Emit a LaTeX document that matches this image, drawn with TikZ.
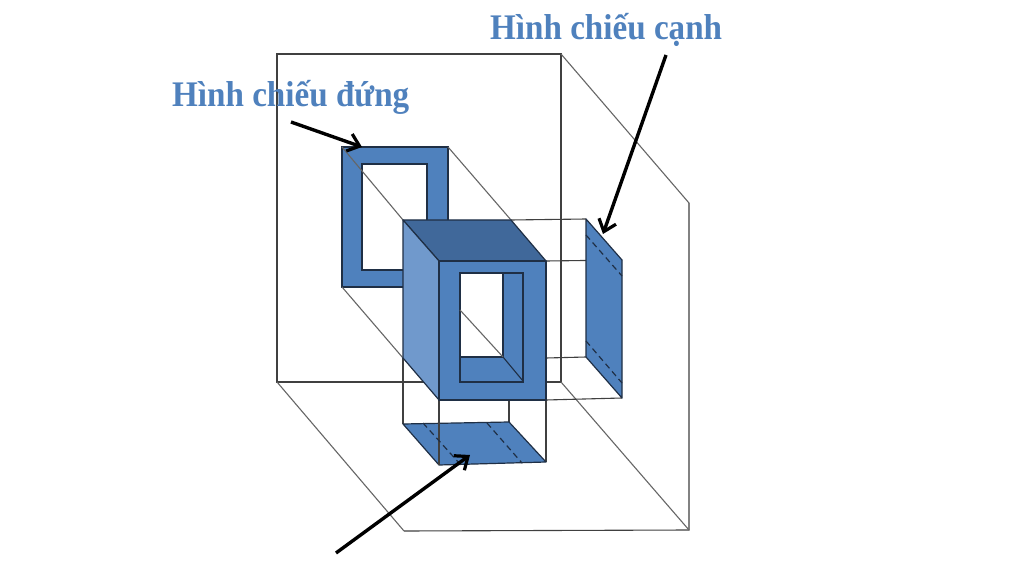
\documentclass[tikz,border=0pt]{standalone}
\usepackage{fontspec}
\setmainfont{Liberation Serif}
\newfontfamily\titlefont[FakeStretch=0.92]{Liberation Serif Bold}
\definecolor{pblue}{HTML}{4F81BD}
\definecolor{ptop}{HTML}{40689A}
\definecolor{pleft}{HTML}{7099CC}
\definecolor{pedge}{HTML}{1F2F45}
\usetikzlibrary{arrows.meta}
\tikzset{
  boxline/.style={draw=black!60,line width=1.1pt},
  guide/.style={draw=black!75,line width=1.1pt},
  face/.style={fill=pblue,draw=pedge,line width=1.2pt,line join=round},
  hidden/.style={draw=pedge,line width=1.2pt,dash pattern=on 6pt off 4pt},
  pointer/.style={draw=black,line width=3.4pt,-{Straight Barb[length=11pt,width=18pt,line width=3.2pt]}},
  title/.style={text=pblue,font=\fontsize{36}{38}\titlefont,inner sep=0pt,anchor=base west}
}
\begin{document}
\begin{tikzpicture}[x=1pt,y=-1pt]
\useasboundingbox (0,0) rectangle (1030,577);
\fill[white] (0,0) rectangle (1030,577);
% big box corners
\coordinate (A) at (277,54); \coordinate (B) at (561,54);
\coordinate (C) at (561,382); \coordinate (D) at (277,382);
\coordinate (E) at (689,203); \coordinate (F) at (689,530); \coordinate (G) at (404,531);
\draw[guide] (A) rectangle (C);
\draw[boxline] (B) -- (E);
\draw[guide] (E) -- (F) -- (G);
\draw[boxline] (G) -- (D);
\draw[boxline] (C) -- (F);
% front view
\coordinate (f1) at (342,147); \coordinate (f2) at (448,147);
\coordinate (f3) at (448,287); \coordinate (f4) at (342,287);
\fill[pblue,even odd rule] (f1) rectangle (f3) (362,164) rectangle (427,270);
\draw[pedge,line width=1.2pt] (f1) rectangle (f3) (362,164) rectangle (427,270);
% cube corners
\coordinate (c1) at (403,220); \coordinate (c2) at (511,220);
\coordinate (c3) at (546,261); \coordinate (c4) at (439,261);
\coordinate (c5) at (439,400); \coordinate (c6) at (546,400);
\coordinate (c7) at (403,358);
% projection lines
\draw[boxline] (f1) -- (c1);
\draw[boxline] (f2) -- (c2);
\draw[boxline] (f4) -- (c7);
% side view
\coordinate (s1) at (586,219); \coordinate (s2) at (622,260);
\coordinate (s3) at (622,398); \coordinate (s4) at (586,357);
\draw[guide] (c2) -- (s1); \draw[guide] (c3) -- (s2);
\draw[guide] (546,358) -- (s4); \draw[guide] (c6) -- (s3);
\draw[face] (s1) -- (s2) -- (s3) -- (s4) -- cycle;
\draw[hidden] (586,235) -- (622,276);
\draw[hidden] (586,341) -- (622,383);
% bottom view
\coordinate (b1) at (403,424); \coordinate (b2) at (509,422);
\coordinate (b3) at (546,462); \coordinate (b4) at (439,465);
\draw[guide] (c7) -- (b1); \draw[guide] (c6) -- (b3);
\draw[guide] (509,400) -- (b2);
\draw[face] (b1) -- (b2) -- (b3) -- (b4) -- cycle;
\draw[guide] (c5) -- (b4);
\draw[hidden] (423,423) -- (460,464);
\draw[hidden] (487,423) -- (522,463);
% cube
\draw[face,fill=ptop] (c1) -- (c2) -- (c3) -- (c4) -- cycle;
\draw[face,fill=pleft] (c1) -- (c4) -- (c5) -- (c7) -- cycle;
\draw[face] (c4) rectangle (c6);
\draw[pedge,line width=1.2pt] (460,273) rectangle (523,382);
\fill[white] (460,273) rectangle (503,357);
\draw[pedge,line width=1.2pt] (460,273) rectangle (503,357);
\draw[boxline] (460,310) -- (503,357);
\draw[pedge,line width=1.1pt] (503,357) -- (523,381);
% labels
\node[title] (lc) at (490,40) {Hình chiếu cạnh};
\node[title] (ld) at (172,107) {Hình chiếu đứng};
% arrows
\coordinate (a1) at (291,122); \coordinate (a2) at (362,147);
\coordinate (a3) at (666,55);  \coordinate (a4) at (603,234);
\coordinate (a5) at (336,553); \coordinate (a6) at (470,455);
\draw[pointer] (a1) -- (a2);
\draw[pointer] (a3) -- (a4);
\draw[pointer] (a5) -- (a6);
\end{tikzpicture}
\end{document}
